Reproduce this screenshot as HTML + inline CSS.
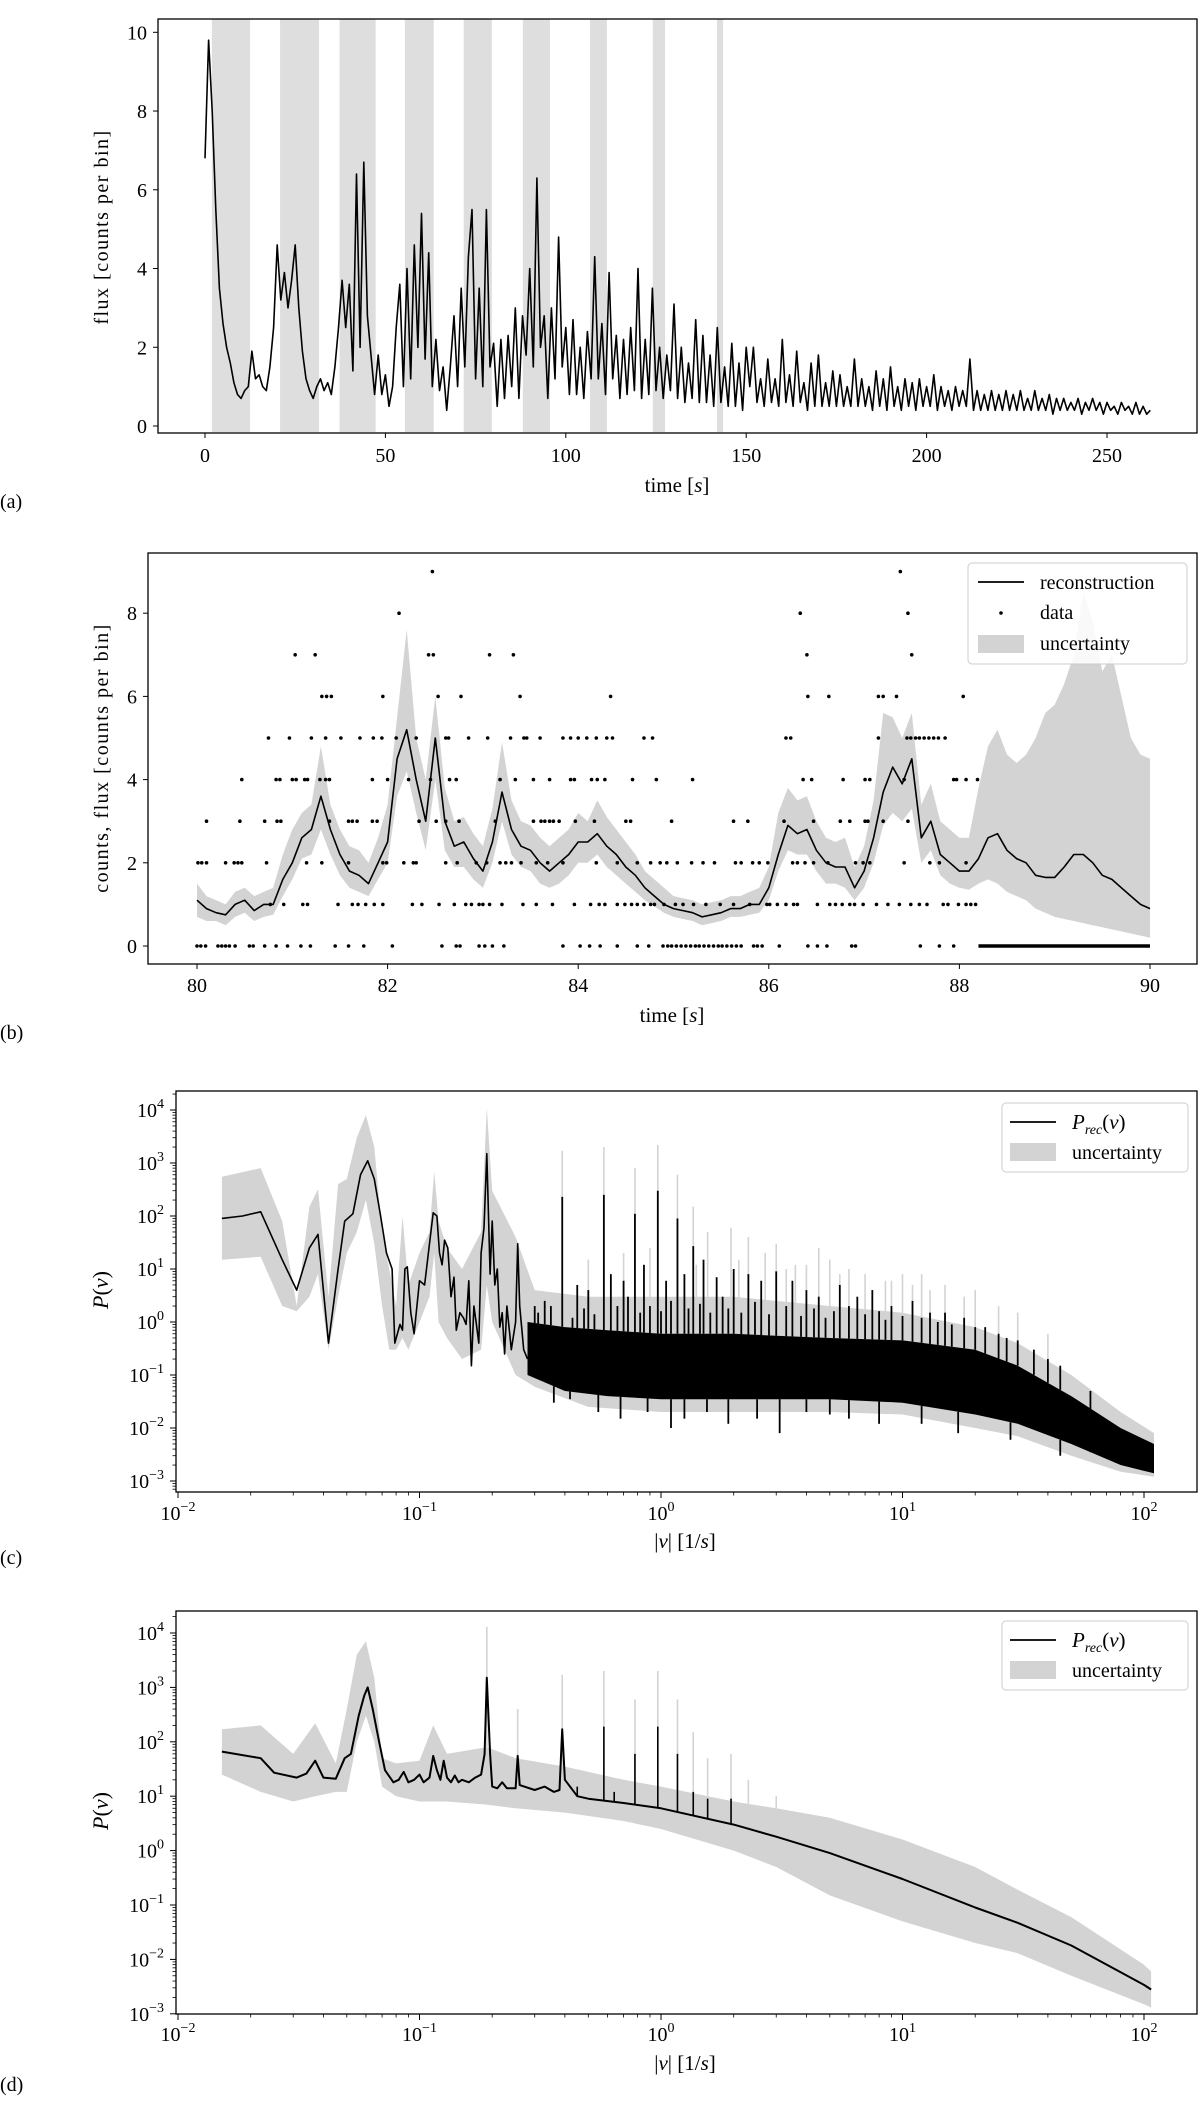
<!DOCTYPE html>
<html><head><meta charset="utf-8"><style>
html,body{margin:0;padding:0;background:#fff;}
svg{display:block;font-family:"Liberation Serif",serif;}
</style></head><body>
<svg id="fig" xmlns="http://www.w3.org/2000/svg" width="1200" height="2104" viewBox="0 0 1200 2104">
<rect x="0" y="0" width="1200" height="2104" fill="#fff"/>
<defs>
<clipPath id="clipA"><rect x="158" y="19" width="1039" height="414"/></clipPath>
<clipPath id="clipB"><rect x="148" y="553" width="1049" height="411"/></clipPath>
<clipPath id="clipC"><rect x="176" y="1091" width="1021" height="401"/></clipPath>
<clipPath id="clipD"><rect x="176" y="1611" width="1021" height="403"/></clipPath>
</defs>
<g id="panelA"></g>
<g id="panelB"></g>
<g id="panelC"></g>
<g id="panelD"></g>
</svg>
<script>
// ---------- Panel A data ----------
const aFlux = [6.8,9.8,8.0,5.5,3.5,2.6,2.0,1.6,1.1,0.8,0.7,0.9,1.0,1.9,1.2,1.3,1.0,0.9,1.5,2.5,4.6,3.2,3.9,3.0,3.7,4.6,3.0,1.9,1.2,0.9,
0.7,1.0,1.2,0.9,1.1,0.8,1.5,2.5,3.7,2.5,3.6,1.4,6.4,2.0,6.7,2.8,1.8,0.8,1.8,0.8,1.3,0.5,1.0,2.5,3.6,1.0,4.0,1.2,4.6,2.0,
5.4,1.7,4.4,1.0,2.2,0.9,1.5,0.4,1.5,2.8,1.0,3.5,1.5,4.3,5.5,1.2,3.5,1.0,5.5,1.5,2.1,0.5,2.2,0.7,2.3,1.0,3.0,0.7,2.8,1.8,
4.0,1.5,6.3,2.0,2.8,0.7,3.0,1.2,4.8,1.5,2.5,0.8,2.7,0.8,2.0,0.7,2.4,1.2,4.3,1.2,2.6,0.8,3.9,1.2,2.3,0.7,2.2,0.8,2.5,0.9,
4.0,0.7,2.2,0.8,3.5,0.9,2.0,0.7,1.8,0.9,3.1,0.7,2.0,0.6,1.6,0.7,2.7,0.6,2.3,0.6,1.8,0.5,2.5,0.6,1.5,0.5,2.1,0.5,1.6,0.4,
2.0,1.0,2.0,0.6,1.2,0.5,1.7,0.6,1.2,0.5,2.2,0.6,1.3,0.5,1.9,0.6,1.1,0.4,1.6,0.5,1.8,0.5,1.1,0.5,1.4,0.5,1.3,0.5,1.0,0.5,
1.7,0.5,1.2,0.5,1.0,0.4,1.4,0.5,1.2,0.4,1.5,0.5,1.0,0.4,1.2,0.5,1.1,0.4,1.2,0.5,1.0,0.5,1.3,0.4,1.0,0.5,0.9,0.4,1.0,0.5,
0.9,0.5,1.7,0.4,0.9,0.4,0.8,0.4,0.9,0.4,0.8,0.4,0.9,0.4,0.8,0.4,0.9,0.4,0.7,0.4,0.9,0.4,0.7,0.4,0.8,0.3,0.7,0.4,0.7,0.4,
0.6,0.4,0.7,0.3,0.6,0.4,0.7,0.4,0.6,0.3,0.6,0.4,0.5,0.3,0.6,0.4,0.5,0.3,0.6,0.3,0.5,0.3,0.4];
const aBandStart = [1.9,20.8,37.3,55.4,71.7,88.1,106.7,124.1,141.9];
const aBandEnd   = [12.5,31.6,47.3,63.4,79.5,95.6,111.4,127.5,143.6];
const aYTicks = [0,2,4,6,8,10];
const aXTicks = [0,50,100,150,200,250];

// ---------- Panel B data ----------
const bTimes = [80.0,80.1,80.2,80.3,80.4,80.5,80.6,80.7,80.8,80.9,81.0,81.1,81.2,81.3,81.4,81.5,81.6,81.7,81.8,81.9,
82.0,82.1,82.2,82.3,82.4,82.5,82.6,82.7,82.8,82.9,83.0,83.1,83.2,83.3,83.4,83.5,83.6,83.7,83.8,83.9,
84.0,84.1,84.2,84.3,84.4,84.5,84.6,84.7,84.8,84.9,85.0,85.1,85.2,85.3,85.4,85.5,85.6,85.7,85.8,85.9,
86.0,86.1,86.2,86.3,86.4,86.5,86.6,86.7,86.8,86.9,87.0,87.1,87.2,87.3,87.4,87.5,87.6,87.7,87.8,87.9,
88.0,88.1,88.2,88.3,88.4,88.5,88.6,88.7,88.8,88.9,89.0,89.1,89.2,89.3,89.4,89.5,89.6,89.7,89.8,89.9,90.0];
const bRecon = [1.1,0.9,0.8,0.75,1.0,1.1,0.85,1.0,1.0,1.6,2.0,2.6,2.8,3.6,2.8,2.2,1.8,1.7,1.5,2.0,
2.5,4.5,5.2,4.0,3.0,5.0,3.0,2.4,2.5,2.1,1.8,2.5,3.7,2.8,2.4,2.3,2.0,1.8,2.0,2.2,
2.5,2.5,2.7,2.4,2.2,1.9,1.7,1.4,1.2,1.0,0.9,0.85,0.8,0.7,0.75,0.8,0.9,0.9,1.0,1.0,
1.4,2.2,2.9,2.7,2.8,2.3,2.0,1.9,1.9,1.4,1.8,2.6,3.7,4.3,3.9,4.5,2.6,3.0,2.2,2.0,
1.8,1.8,2.1,2.6,2.7,2.3,2.1,2.0,1.7,1.65,1.65,1.9,2.2,2.2,2.0,1.7,1.6,1.4,1.2,1.0,0.9];
const bUpper = [1.5,1.2,1.1,1.0,1.3,1.4,1.2,1.3,1.4,2.2,2.8,3.2,3.4,4.8,3.4,2.8,2.4,2.3,2.0,2.6,
3.4,5.5,7.6,5.0,4.0,6.0,3.8,3.0,3.1,2.7,2.4,3.3,4.9,3.5,3.0,2.9,2.6,2.4,2.6,2.8,
3.2,3.0,3.5,3.1,2.8,2.5,2.2,1.8,1.6,1.4,1.2,1.15,1.1,1.0,1.05,1.1,1.2,1.2,1.3,1.4,
1.9,3.2,3.8,3.5,3.6,3.0,2.6,2.5,2.6,1.9,2.4,3.5,5.6,5.5,5.0,5.6,3.4,3.9,3.0,2.8,
2.6,2.6,3.8,4.8,5.2,4.6,4.4,4.6,5.0,5.6,5.8,6.3,7.0,8.5,7.8,6.6,7.0,6.0,5.0,4.6,4.5];
const bLower = [0.7,0.6,0.6,0.5,0.7,0.8,0.6,0.7,0.75,1.2,1.6,2.1,2.2,2.8,2.2,1.7,1.4,1.3,1.2,1.6,
2.0,3.6,4.2,3.2,2.3,4.0,2.3,1.9,1.9,1.6,1.4,2.0,3.0,2.2,1.9,1.8,1.5,1.4,1.5,1.7,
2.0,2.0,2.2,1.9,1.7,1.5,1.3,1.1,0.95,0.8,0.7,0.65,0.6,0.5,0.55,0.6,0.7,0.7,0.75,0.8,
1.1,1.8,2.3,2.2,2.2,1.8,1.5,1.5,1.4,1.1,1.4,2.0,2.9,3.2,3.0,3.3,2.0,2.3,1.7,1.5,
1.4,1.35,1.5,1.6,1.5,1.3,1.2,1.1,0.9,0.8,0.7,0.65,0.6,0.55,0.5,0.45,0.4,0.35,0.3,0.25,0.2];
const bCountLevels = [0,1,2,3,4,5,6,7,8,9];
const bDataTimes = [
 [80.00,80.04,80.09,80.22,80.26,80.30,80.34,80.40,80.55,80.59,80.71,80.83,80.95,81.09,81.19,81.45,81.59,81.75,82.05,82.57,82.72,82.76,82.96,83.02,83.10,83.22,83.84,84.02,84.12,84.23,84.41,84.62,84.74,84.89,84.94,84.98,85.03,85.08,85.13,85.18,85.23,85.27,85.32,85.37,85.42,85.47,85.51,85.56,85.61,85.66,85.71,85.84,85.88,85.93,86.11,86.41,86.51,86.61,86.87,86.91,87.59,87.79,87.94],
 [80.77,80.91,81.11,81.16,81.48,81.63,81.69,81.77,81.86,81.95,82.26,82.36,82.54,82.70,82.82,82.88,82.96,83.00,83.07,83.20,83.42,83.56,83.73,83.96,84.13,84.22,84.28,84.41,84.49,84.56,84.62,84.69,84.76,84.80,84.90,85.02,85.10,85.21,85.34,85.49,85.63,85.80,85.98,86.01,86.09,86.18,86.26,86.30,86.51,86.64,86.70,86.77,86.85,86.90,86.99,87.13,87.25,87.37,87.49,87.58,87.66,87.83,87.88,87.99,88.07,88.12,88.17],
 [80.01,80.05,80.10,80.30,80.39,80.43,80.47,80.73,81.15,81.31,81.59,81.95,81.99,82.17,82.27,82.30,82.61,82.73,82.93,83.04,83.18,83.24,83.30,83.40,83.56,83.68,83.84,84.19,84.41,84.62,84.76,84.86,84.93,85.04,85.19,85.31,85.43,85.65,85.71,85.83,85.90,85.99,86.25,86.30,86.38,86.47,86.62,86.91,86.99,87.06,87.42,87.69,87.79,88.07],
 [80.10,80.45,80.71,80.84,80.88,81.39,81.59,81.63,81.68,81.84,81.89,82.33,82.51,82.61,82.75,83.13,83.53,83.61,83.65,83.70,83.74,83.80,83.97,84.17,84.50,84.55,84.98,85.63,85.78,86.16,86.47,86.75,86.85,87.01,87.04,87.20,87.46],
 [80.47,80.83,80.87,81.00,81.04,81.13,81.16,81.29,81.35,81.39,81.84,82.00,82.22,82.45,82.65,82.72,83.18,83.34,83.53,83.70,83.92,83.96,84.14,84.20,84.28,84.57,84.82,85.20,86.36,86.45,86.78,87.01,87.06,87.42,87.94,87.97,88.07,88.19],
 [80.75,80.97,81.20,81.35,81.51,81.71,81.85,81.94,82.09,82.30,82.61,82.64,82.85,83.05,83.29,83.43,83.46,83.60,83.84,83.92,84.00,84.09,84.19,84.30,84.36,84.69,84.78,86.18,86.23,87.15,87.45,87.49,87.54,87.58,87.63,87.68,87.73,87.78,87.85],
 [81.31,81.36,81.41,81.95,82.53,82.77,83.39,84.34,86.41,86.63,87.15,87.20,87.34,88.04],
 [81.03,81.24,82.43,82.48,83.07,83.32,86.40,87.50],
 [82.12,86.33,87.46],
 [82.47,87.38]
];
const bZeroRunStart = 88.2;
const bZeroRunEnd = 90.0;
const bYTicks = [0,2,4,6,8];
const bXTicks = [80,82,84,86,88,90];

// ---------- Panel C data ----------
const cLowFreq = [0.0152,0.0185,0.022,0.027,0.031,0.035,0.038,0.042,0.046,0.049,0.053,0.057,0.061,0.065,0.069,0.073,0.077,0.079,0.083,0.085,0.087,0.089,0.092,0.095,0.1,0.105,0.11,0.114,0.118,0.121,0.124,0.127,0.131,0.135,0.139,0.142,0.147,0.152,0.156,0.16,0.164,0.168,0.172,0.176,0.18,0.185,0.19,0.196,0.2,0.205,0.21,0.215,0.22,0.225,0.23,0.24,0.25,0.255,0.26,0.27,0.28];
const cLowPower = [90,100,120,15,4,25,45,0.4,10,80,110,600,1100,500,100,20,10,0.4,0.9,0.7,10,11,1.5,0.6,6,5,30,115,100,20,12,35,25,3,7,0.7,1.5,1.2,0.9,6,0.15,2,0.9,0.4,20,60,1500,8,80,5,10,0.8,1.5,0.25,2,0.3,1,30,2,0.3,0.2];
const cBandFreq = [0.0152,0.022,0.027,0.031,0.035,0.038,0.042,0.046,0.05,0.055,0.06,0.065,0.07,0.075,0.08,0.085,0.09,0.1,0.11,0.115,0.12,0.13,0.15,0.18,0.19,0.2,0.25,0.3,0.5,1,2,3,5,10,20,30,50,80,110];
const cBandHi = [550,800,80,2,150,320,3,400,500,3000,8000,2000,50,10,2,100,5,20,50,700,80,25,10,50,11000,300,40,4,3,3,3,2.5,2,1.5,0.8,0.4,0.1,0.02,0.008];
const cBandLo = [15,17,2,1.6,3,8,0.3,3,20,50,200,30,2,0.3,0.3,0.5,0.3,1,3,20,1,0.5,0.2,0.3,5,1,0.1,0.06,0.025,0.02,0.02,0.02,0.02,0.018,0.01,0.007,0.003,0.0015,0.0012];
const cCoreFreq = [0.28,0.4,0.6,1,2,3,5,10,20,30,50,80,110];
const cCoreHi = [1.0,0.8,0.7,0.6,0.6,0.55,0.5,0.45,0.3,0.15,0.04,0.01,0.005];
const cCoreLo = [0.1,0.05,0.04,0.035,0.035,0.035,0.035,0.03,0.018,0.012,0.005,0.002,0.0014];
const cSpikeFreq = [0.39,0.58,0.78,0.97,1.17,1.36,0.3,0.33,0.45,0.5,0.62,0.7,0.85,1.05,1.25,1.5,1.7,2.0,2.3,2.6,3.0,3.5,4.0,4.5,5.5,6.5,7.5,9,11,13,15,18,22,27,35,
 0.31,0.35,0.43,0.48,0.53,0.66,0.73,0.82,0.9,1.0,1.1,1.3,1.45,1.6,1.8,1.9,2.15,2.45,2.8,3.3,3.8,4.3,4.8,5.2,6.0,7.0,8.0,8.5,10,12,14,16,20,25,30,40,45,60,
 0.42,0.75,1.1,1.55,3.1,6.0,8.0,0.36,0.55,0.68,0.88,1.25,1.9,2.5,4.0,5.0,12,17,28,45];
const cSpikePower = [230,250,110,300,90,27,2,2.5,5,4,8,6,12,6,8,15,7,10,8,6,9,6,4,3,5,3,4,2,2.5,1.5,1.5,1.2,0.8,0.5,0.3,
 1.5,2,1.2,1.8,1.4,2,3,1.5,2,1.6,2.5,1.8,2.2,1.5,3,1.8,1.5,2.4,1.4,2,1.3,1.8,1.2,1.6,2,1.4,1.6,1.1,1.3,1.2,1,0.9,0.8,0.6,0.45,0.2,0.15,0.05,
 0.035,0.06,0.01,0.02,0.008,0.015,0.012,0.03,0.02,0.015,0.02,0.015,0.012,0.015,0.02,0.018,0.012,0.008,0.006,0.003];
const cGreySpikeFreq = [0.39,0.58,0.78,0.97,1.17,1.36,1.56,1.95,2.3,2.7,3.0,3.6,4.5,5.0,6.0,7.0,8.5,10,12,15,20,25,0.5,0.7,0.9,1.4,2.1,3.3,4.0,5.5,9,11,13,18,30,40];
const cGreySpikePower = [1700,2000,800,2200,600,150,50,60,40,20,30,12,25,15,10,8,6,8,8,5,4,2,15,20,25,12,15,10,12,8,6,5,4,3,1.5,0.6];
const cXTicks = [-2,-1,0,1,2];
const cYTicks = [-3,-2,-1,0,1,2,3,4];

// ---------- Panel D data ----------
const dFreq = [0.0152,0.022,0.025,0.031,0.034,0.037,0.040,0.045,0.049,0.052,0.056,0.059,0.061,0.064,0.068,0.072,0.078,0.082,0.086,0.09,0.095,0.1,0.104,0.11,0.114,0.118,0.122,0.126,0.13,0.135,0.14,0.145,0.15,0.16,0.17,0.18,0.186,0.19,0.196,0.2,0.21,0.22,0.23,0.25,0.255,0.26,0.3,0.33,0.36,0.38,0.39,0.40,0.45,0.5,0.7,1,2,3,5,10,20,30,50,100,107];
const dPower = [66,50,27,22,26,45,22,21,50,60,300,700,1000,400,100,30,18,20,28,18,20,25,18,22,55,30,20,45,22,18,24,18,20,18,22,25,60,1500,60,15,14,18,14,14,55,16,13,15,12,13,170,20,10,9,7.5,6,3,1.8,0.9,0.3,0.09,0.047,0.018,0.0034,0.0028];
const dBandFreq = [0.0152,0.022,0.03,0.037,0.045,0.05,0.055,0.06,0.065,0.07,0.08,0.1,0.114,0.13,0.19,0.25,0.4,0.7,1,2,3,5,10,20,30,50,100,107];
const dBandHi = [170,200,60,220,40,400,4000,7000,1500,50,40,45,200,60,80,50,35,20,15,8,6,4,1.6,0.5,0.19,0.06,0.008,0.006];
const dBandLo = [25,12,8,10,12,12,100,300,100,15,10,8,8,8,7,6,5,3.5,2.5,1,0.5,0.15,0.05,0.02,0.013,0.005,0.0015,0.0013];
const dSpikeFreq = [0.58,0.78,0.97,1.17,1.36,1.56,1.95,0.64,0.45];
const dSpikePower = [190,60,190,60,12,9,9,12,15];
const dGreySpikeFreq = [0.19,0.39,0.58,0.78,0.97,1.17,1.36,1.56,1.95,2.3,3.0,0.255,0.114];
const dGreySpikePower = [13000,1700,2000,600,2000,600,150,50,60,20,10,400,200];
const dXTicks = [-2,-1,0,1,2];
const dYTicks = [-3,-2,-1,0,1,2,3,4];

// ---------- helpers ----------
const NS = 'http://www.w3.org/2000/svg';
function el(tag, parent, attrs) {
  const e = document.createElementNS(NS, tag);
  for (const k in attrs) e.setAttribute(k, attrs[k]);
  parent.appendChild(e);
  return e;
}
function txt(parent, x, y, s, size, anchor) {
  const t = el('text', parent, {x: x, y: y, 'font-size': size, 'text-anchor': anchor || 'middle', fill: '#000'});
  t.textContent = s;
  return t;
}
function pow10Label(parent, x, y, exp, anchor) {
  const t = el('text', parent, {x: x, y: y, 'font-size': 20, 'text-anchor': anchor, fill: '#000'});
  const a = el('tspan', t, {});
  a.textContent = '10';
  const b = el('tspan', t, {dy: -9, 'font-size': 14});
  b.textContent = exp < 0 ? '\u2212' + (-exp) : String(exp);
  return t;
}
function polyPath(pts) { return 'M' + pts.map(p => p[0].toFixed(1) + ',' + p[1].toFixed(1)).join('L'); }
function lerpLog(fx, fs, vs) {
  const lx = Math.log10(fx);
  for (let i = 0; i < fs.length - 1; i++) {
    const a = Math.log10(fs[i]), b = Math.log10(fs[i+1]);
    if (lx >= a && lx <= b) { const t = (lx - a) / (b - a); return Math.pow(10, Math.log10(vs[i]) * (1 - t) + Math.log10(vs[i+1]) * t); }
  }
  return lx < Math.log10(fs[0]) ? vs[0] : vs[vs.length - 1];
}
function frame(g, L, T, R, B) {
  const r = el('rect', g, {x: L, y: T, width: R - L, height: B - T, fill: 'none', stroke: '#000', 'stroke-width': 1.3});
  
  
}
function tickLine(g, x1, y1, x2, y2, w) {
  const l = el('line', g, {x1: x1, y1: y1, x2: x2, y2: y2, stroke: '#000', 'stroke-width': w || 1});
  return l;
}

// ---------- Panel A ----------
(function(){
  const g = document.getElementById('panelA');
  const L=158,T=19,R=1197,B=433;
  const xA = t => 205 + 3.608 * t;
  const yA = v => 426 - 39.37 * v;
  const clip = el('g', g, {'clip-path': 'url(#clipA)'});
  
  
  for (let i = 0; i < aBandStart.length; i++) {
    const r = el('rect', clip, {x: xA(aBandStart[i]), y: T, width: xA(aBandEnd[i]) - xA(aBandStart[i]), height: B - T - 1, fill: '#dedede'});
    
    
  }
  const pts = aFlux.map((v, i) => [xA(i), yA(v)]);
  const p = el('path', clip, {d: polyPath(pts), fill: 'none', stroke: '#000', 'stroke-width': 1.6, 'stroke-linejoin': 'round'});
  
  
  frame(g, L, T, R, B);
  aYTicks.forEach(v => {
    const l = tickLine(g, L - 5, yA(v), L, yA(v));
    
    
    const t = txt(g, 147, yA(v) + 7, String(v), 20, 'end');
    
    
  });
  aXTicks.forEach(v => {
    const l = tickLine(g, xA(v), B, xA(v), B + 5);
    
    
    const t = txt(g, xA(v), 462, String(v), 20, 'middle');
    
    
  });
  const xl = el('text', g, {x: 677, y: 492, 'font-size': 21, 'text-anchor': 'middle'});
  xl.innerHTML = 'time [<tspan font-style="italic">s</tspan>]';
  
  
  const yl = txt(g, 0, 0, 'flux [counts per bin]', 20, 'middle');
  yl.setAttribute('transform', 'translate(108,227) rotate(-90)');
  yl.setAttribute('letter-spacing', '1.5');
  
  
  const pl = txt(g, 0, 508, '(a)', 20, 'start');
  
  
})();

// ---------- Panel B ----------
(function(){
  const g = document.getElementById('panelB');
  const L=148,T=553,R=1197,B=964;
  const xB = t => 197 + 95.3 * (t - 80);
  const yB = v => 946 - 41.6 * v;
  const clip = el('g', g, {'clip-path': 'url(#clipB)'});
  
  
  const up = bTimes.map((t, i) => [xB(t), yB(bUpper[i])]);
  const lo = bTimes.map((t, i) => [xB(t), yB(bLower[i])]).reverse();
  const band = el('path', clip, {d: polyPath(up.concat(lo)) + 'Z', fill: '#d3d3d3', stroke: 'none'});
  
  
  bCountLevels.forEach((c, ci) => {
    bDataTimes[ci].forEach(t => {
      const d = el('circle', clip, {cx: xB(t), cy: yB(c), r: 1.8, fill: '#000'});
      
      
    });
  });
  const zr = el('line', clip, {x1: xB(bZeroRunStart), y1: yB(0), x2: xB(bZeroRunEnd), y2: yB(0), stroke: '#000', 'stroke-width': 3.6});
  
  
  const line = el('path', clip, {d: polyPath(bTimes.map((t, i) => [xB(t), yB(bRecon[i])])), fill: 'none', stroke: '#000', 'stroke-width': 1.6, 'stroke-linejoin': 'round'});
  
  
  frame(g, L, T, R, B);
  bYTicks.forEach(v => {
    const l = tickLine(g, L - 5, yB(v), L, yB(v));
    
    
    const t = txt(g, 137, yB(v) + 7, String(v), 20, 'end');
    
    
  });
  bXTicks.forEach(v => {
    const l = tickLine(g, xB(v), B, xB(v), B + 5);
    
    
    const t = txt(g, xB(v), 992, String(v), 20, 'middle');
    
    
  });
  const xl = el('text', g, {x: 672, y: 1022, 'font-size': 21, 'text-anchor': 'middle'});
  xl.innerHTML = 'time [<tspan font-style="italic">s</tspan>]';
  
  
  const yl = txt(g, 0, 0, 'counts, flux [counts per bin]', 20, 'middle');
  yl.setAttribute('transform', 'translate(108,758) rotate(-90)');
  yl.setAttribute('letter-spacing', '1.5');
  
  
  const pl = txt(g, 0, 1039, '(b)', 20, 'start');
  
  
  const lg = el('g', g, {});
  
  
  const lb = el('rect', lg, {x: 968, y: 563, width: 219, height: 101, rx: 4, fill: '#fff', 'fill-opacity': 0.85, stroke: '#ccc', 'stroke-width': 1});
  
  
  const l1 = el('line', lg, {x1: 978, y1: 582, x2: 1024, y2: 582, stroke: '#000', 'stroke-width': 1.8});
  
  
  const t1 = txt(lg, 1040, 589, 'reconstruction', 20, 'start');
  
  
  const d1 = el('circle', lg, {cx: 1001, cy: 613, r: 1.8, fill: '#000'});
  
  
  const t2 = txt(lg, 1040, 619, 'data', 20, 'start');
  
  
  const s3 = el('rect', lg, {x: 978, y: 635, width: 46, height: 18, fill: '#d3d3d3'});
  
  
  const t3 = txt(lg, 1040, 650, 'uncertainty', 20, 'start');
  
  
})();

// ---------- log axes helper ----------
function logAxes(g, L, T, R, B, xF, yF, xTicks, yTicks, xLabY) {
  frame(g, L, T, R, B);
  xTicks.forEach(e => {
    const x = xF(Math.pow(10, e));
    const l = tickLine(g, x, B, x, B + 6);
    
    
    const t = pow10Label(g, x, xLabY, e, 'middle');
    
    
    for (let k = 2; k <= 9; k++) {
      const xm = xF(k * Math.pow(10, e));
      if (xm < R) {
        const m = tickLine(g, xm, B, xm, B + 3.5, 0.8);
        
        
      }
    }
  });
  const yAll = [yTicks[0] - 1].concat(yTicks);
  yAll.forEach(e => {
    const y = yF(Math.pow(10, e));
    if (y <= B + 0.5 && y >= T) {
      const l = tickLine(g, L - 6, y, L, y);
      
      
      const t = pow10Label(g, 164, y + 7, e, 'end');
      
      
    }
    for (let k = 2; k <= 9; k++) {
      const ym = yF(k * Math.pow(10, e));
      if (ym > T && ym < B) {
        const m = tickLine(g, L - 3.5, ym, L, ym, 0.8);
        
        
      }
    }
  });
}
function psdLegend(g, y0) {
  const lg = el('g', g, {});
  
  
  const lb = el('rect', lg, {x: 1002, y: y0, width: 186, height: 69, rx: 4, fill: '#fff', 'fill-opacity': 0.85, stroke: '#ccc', 'stroke-width': 1});
  
  
  const l1 = el('line', lg, {x1: 1010, y1: y0 + 19, x2: 1056, y2: y0 + 19, stroke: '#000', 'stroke-width': 1.8});
  
  
  const t1 = el('text', lg, {x: 1072, y: y0 + 26, 'font-size': 21, 'text-anchor': 'start'});
  t1.innerHTML = '<tspan font-style="italic">P</tspan><tspan font-style="italic" font-size="14" dy="5">rec</tspan><tspan dy="-5">(</tspan><tspan font-style="italic">ν</tspan>)';
  
  
  const s2 = el('rect', lg, {x: 1010, y: y0 + 40, width: 46, height: 18, fill: '#d3d3d3'});
  
  
  const t2 = txt(lg, 1072, y0 + 56, 'uncertainty', 20, 'start');
  
  
}
function axisTitles(g, yCenter, xLabY, panelY, label) {
  const xl = el('text', g, {x: 685, y: xLabY, 'font-size': 21, 'text-anchor': 'middle'});
  xl.innerHTML = '|<tspan font-style="italic">ν</tspan>| [1/<tspan font-style="italic">s</tspan>]';
  
  
  const yl = el('text', g, {x: 0, y: 0, 'font-size': 22, 'text-anchor': 'middle', transform: 'translate(108,' + yCenter + ') rotate(-90)'});
  yl.innerHTML = '<tspan font-style="italic">P</tspan>(<tspan font-style="italic">ν</tspan>)';
  
  
  const pl = txt(g, 0, panelY, label, 20, 'start');
  
  
}

// ---------- Panel C ----------
(function(){
  const g = document.getElementById('panelC');
  const L=176,T=1091,R=1197,B=1492;
  const xC = f => 178 + 241.5 * (Math.log10(f) + 2);
  const yC = p => 1110 + 53 * (4 - Math.log10(p));
  const clip = el('g', g, {'clip-path': 'url(#clipC)'});
  
  
  const up = cBandFreq.map((f, i) => [xC(f), yC(cBandHi[i])]);
  const lo = cBandFreq.map((f, i) => [xC(f), yC(cBandLo[i])]).reverse();
  const band = el('path', clip, {d: polyPath(up.concat(lo)) + 'Z', fill: '#d3d3d3'});
  
  
  cGreySpikeFreq.forEach((f, i) => {
    const base = lerpLog(f, cCoreFreq, cCoreHi);
    const s = el('line', clip, {x1: xC(f), y1: yC(base), x2: xC(f), y2: yC(cGreySpikePower[i]), stroke: '#d3d3d3', 'stroke-width': 1.6});
    
    
  });
  const cu = cCoreFreq.map((f, i) => [xC(f), yC(cCoreHi[i])]);
  const cl = cCoreFreq.map((f, i) => [xC(f), yC(cCoreLo[i])]).reverse();
  const core = el('path', clip, {d: polyPath(cu.concat(cl)) + 'Z', fill: '#000'});
  
  
  const line = el('path', clip, {d: polyPath(cLowFreq.map((f, i) => [xC(f), yC(cLowPower[i])])), fill: 'none', stroke: '#000', 'stroke-width': 1.6, 'stroke-linejoin': 'round'});
  
  
  cSpikeFreq.forEach((f, i) => {
    const p = cSpikePower[i];
    const base = p < 0.1 ? lerpLog(f, cCoreFreq, cCoreLo) : lerpLog(f, cCoreFreq, cCoreHi);
    const s = el('line', clip, {x1: xC(f), y1: yC(base), x2: xC(f), y2: yC(p), stroke: '#000', 'stroke-width': 1.8});
    
    
  });
  logAxes(g, L, T, R, B, xC, yC, cXTicks, cYTicks, 1520);
  axisTitles(g, 1290, 1548, 1564, '(c)');
  psdLegend(g, 1103);
})();

// ---------- Panel D ----------
(function(){
  const g = document.getElementById('panelD');
  const L=176,T=1611,R=1197,B=2014;
  const xD = f => 178 + 241.5 * (Math.log10(f) + 2);
  const yD = p => 1633 + 54.4 * (4 - Math.log10(p));
  const clip = el('g', g, {'clip-path': 'url(#clipD)'});
  
  
  const up = dBandFreq.map((f, i) => [xD(f), yD(dBandHi[i])]);
  const lo = dBandFreq.map((f, i) => [xD(f), yD(dBandLo[i])]).reverse();
  const band = el('path', clip, {d: polyPath(up.concat(lo)) + 'Z', fill: '#d3d3d3'});
  
  
  dGreySpikeFreq.forEach((f, i) => {
    const base = lerpLog(f, dBandFreq, dBandHi);
    const s = el('line', clip, {x1: xD(f), y1: yD(base), x2: xD(f), y2: yD(dGreySpikePower[i]), stroke: '#d3d3d3', 'stroke-width': 1.6});
    
    
  });
  const line = el('path', clip, {d: polyPath(dFreq.map((f, i) => [xD(f), yD(dPower[i])])), fill: 'none', stroke: '#000', 'stroke-width': 2, 'stroke-linejoin': 'round'});
  
  
  dSpikeFreq.forEach((f, i) => {
    const base = lerpLog(f, dFreq, dPower);
    const s = el('line', clip, {x1: xD(f), y1: yD(base), x2: xD(f), y2: yD(dSpikePower[i]), stroke: '#000', 'stroke-width': 1.6});
    
    
  });
  logAxes(g, L, T, R, B, xD, yD, dXTicks, dYTicks, 2041);
  axisTitles(g, 1811, 2070, 2091, '(d)');
  psdLegend(g, 1621);
})();
</script>
</body></html>
